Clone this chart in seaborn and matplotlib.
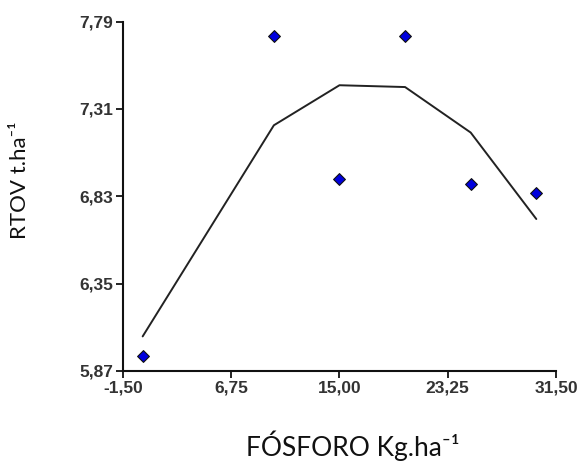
import seaborn as sns
import matplotlib.pyplot as plt
import pandas as pd

# Phosphorus dose (kg/ha) vs observed and fitted RTOV (t/ha)
dose = [0, 10, 15, 20, 25, 30]
rtov_obs = [5.95, 7.71, 6.925, 7.71, 6.90, 6.85]
rtov_fit = [6.06, 7.22, 7.44, 7.43, 7.18, 6.705]

x_ticks = [-1.50, 6.75, 15.00, 23.25, 31.50]
y_ticks = [5.87, 6.35, 6.83, 7.31, 7.79]

df = pd.DataFrame({"dose": dose, "obs": rtov_obs, "fit": rtov_fit})

sns.set_style("ticks")
plt.rcParams["font.family"] = ["Liberation Sans", "DejaVu Sans"]

fig = plt.figure(figsize=(5.82, 4.68), dpi=100)
ax = fig.add_axes([0.2113, 0.2073, 0.744, 0.7467])

sns.lineplot(data=df, x="dose", y="fit", ax=ax, color="#222222", linewidth=1.4)
sns.scatterplot(data=df, x="dose", y="obs", ax=ax, marker="D", s=36,
                color="#0000dd", edgecolor="#111111", linewidth=0.8, zorder=3)

ax.set_xlim(x_ticks[0], x_ticks[-1])
ax.set_ylim(y_ticks[0], y_ticks[-1])
ax.set_xticks(x_ticks)
ax.set_yticks(y_ticks)
fmt = lambda v: f"{v:.2f}".replace(".", ",")
ax.set_xticklabels([fmt(v) for v in x_ticks], fontsize=12.5, fontweight="bold", color="#333333")
ax.set_yticklabels([fmt(v) for v in y_ticks], fontsize=12.5, fontweight="bold", color="#333333")
ax.tick_params(direction="out", length=5, width=1.3, color="#111111", pad=2)

for side in ["top", "right"]:
    ax.spines[side].set_visible(False)
for side in ["left", "bottom"]:
    ax.spines[side].set_linewidth(1.5)
    ax.spines[side].set_color("#111111")

lab_font = ["Lato", "DejaVu Sans"]
ax.set_xlabel("FÓSFORO Kg.ha⁻¹", fontsize=19, family=lab_font, color="#111111")
ax.set_ylabel("RTOV t.ha⁻¹", fontsize=16, family=lab_font, color="#111111")
ax.xaxis.set_label_coords(0.531, -0.17)
ax.yaxis.set_label_coords(-0.215, 0.546)

plt.savefig("out.png", dpi=100)
